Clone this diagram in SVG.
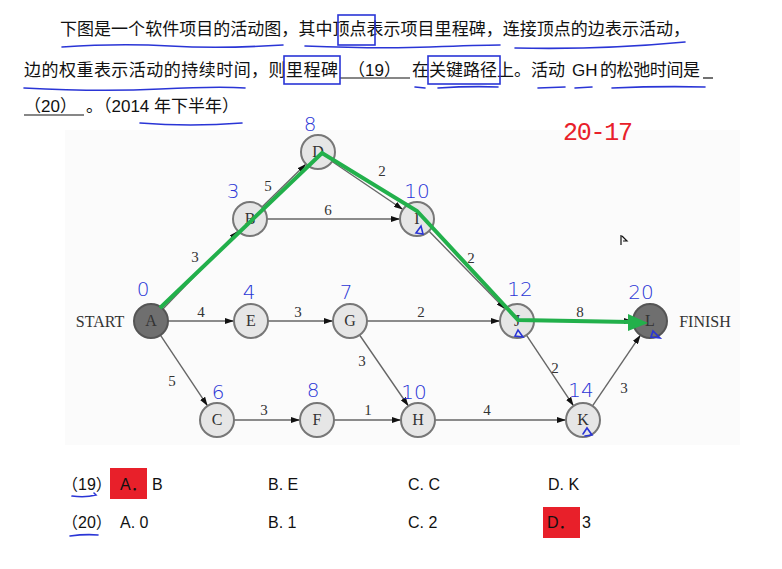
<svg xmlns="http://www.w3.org/2000/svg" width="782" height="569" viewBox="0 0 782 569">
<defs>
<style>
.q{font-family:"Liberation Sans","Noto Sans CJK SC",sans-serif;font-size:17px;fill:#111}
.ans{font-family:"Liberation Sans","Noto Sans CJK SC",sans-serif;font-size:16px;fill:#111}
.nd{fill:#e6e6e6;stroke:#777;stroke-width:2}
.nd2{fill:#6f6f6f;stroke:#555;stroke-width:2}
.nl{font-family:"Liberation Serif",serif;font-size:16px;fill:#333;text-anchor:middle}
.el{font-family:"Liberation Serif",serif;font-size:15px;fill:#333;text-anchor:middle}
.e{stroke:#666;stroke-width:1.4;fill:none;marker-end:url(#ah)}
.hw{font-family:"DejaVu Sans","Liberation Sans",sans-serif;font-weight:200;font-size:20px;fill:#2a35d6;text-anchor:middle}
.bl{stroke:#2a35d6;stroke-width:1.6;fill:none;stroke-linecap:round}
.red{fill:#e8202a}
</style>
<marker id="ah" markerUnits="userSpaceOnUse" markerWidth="9" markerHeight="6" refX="9" refY="3" orient="auto">
<path d="M0,0 L9,3 L0,6 z" fill="#111"/>
</marker>
</defs>
<rect width="782" height="569" fill="#ffffff"/>
<rect x="65" y="130" width="675" height="315" fill="#fbfbfb"/>

<g id="question">
<text class="q" x="60" y="35" textLength="630">下图是一个软件项目的活动图，其中顶点表示项目里程碑，连接顶点的边表示活动，</text>
<text class="q" x="24" y="76" textLength="314">边的权重表示活动的持续时间，则里程碑</text>
<text class="q" x="348" y="76">（19）</text>
<line x1="340" y1="78" x2="410" y2="78" stroke="#111" stroke-width="1.2"/>
<text class="q" x="412" y="76" textLength="153">在关键路径上。活动</text>
<text class="q" x="572" y="76">GH</text>
<text class="q" x="600" y="76" textLength="100">的松弛时间是</text>
<line x1="703" y1="78" x2="713" y2="78" stroke="#111" stroke-width="1.2"/>
<text class="q" x="24" y="112">（20）</text>
<line x1="24" y1="115" x2="84" y2="115" stroke="#111" stroke-width="1.2"/>
<text class="q" x="86" y="112">。（2014 年下半年）</text>
</g>

<g id="annotations">
<rect x="338" y="15" width="37" height="30" class="bl"/>
<rect x="284" y="56" width="56" height="28" class="bl"/>
<rect x="428" y="56" width="72" height="28" class="bl"/>
<path class="bl" d="M62,47 Q120,43 170,46 T283,45"/>
<path class="bl" d="M305,46 Q380,49 430,47 T500,45"/>
<path class="bl" d="M515,48 Q600,50 685,42"/>
<path class="bl" d="M24,88 Q100,92 160,89 T245,88"/>
<path class="bl" d="M415,87 L425,88"/>
<path class="bl" d="M438,88 Q470,86 498,87"/>
<path class="bl" d="M538,88 L565,87"/>
<path class="bl" d="M575,88 L592,87"/>
<path class="bl" d="M612,88 Q660,86 705,87"/>
<path class="bl" d="M140,123 Q190,127 242,123"/>
</g>

<text x="598" y="140" font-family="Liberation Mono, monospace" font-size="25" fill="#e8202a" text-anchor="middle" textLength="70">20-17</text>

<g id="connectors">
<path class="e" d="M162.9,308.9 L238.1,231.1"/>
<path class="e" d="M168,321 L234,321"/>
<path class="e" d="M160.4,335.1 L207.6,405.9"/>
<path class="e" d="M262,207 L306,164"/>
<path class="e" d="M267,219 L400,219"/>
<path class="e" d="M332.1,161.5 L402.9,209.5"/>
<path class="e" d="M268,321 L333,321"/>
<path class="e" d="M367,321 L500,321"/>
<path class="e" d="M359.6,335 L408.4,406"/>
<path class="e" d="M234,420 L300,420"/>
<path class="e" d="M334,420 L401,420"/>
<path class="e" d="M428.9,231.1 L505.1,308.9"/>
<path class="e" d="M534,321 L633,321"/>
<path class="e" d="M526.4,335.1 L573.6,405.9"/>
<path class="e" d="M435,420 L566,420"/>
<path class="e" d="M592.5,405.9 L640.5,335.1"/>
<g class="el">
<text x="195" y="262">3</text>
<text x="268" y="191">5</text>
<text x="382" y="176">2</text>
<text x="328" y="215">6</text>
<text x="471" y="263">2</text>
<text x="201" y="317">4</text>
<text x="298" y="317">3</text>
<text x="421" y="317">2</text>
<text x="580" y="317">8</text>
<text x="172" y="386">5</text>
<text x="362" y="366">3</text>
<text x="264" y="415">3</text>
<text x="368" y="415">1</text>
<text x="487" y="415">4</text>
<text x="555" y="373">2</text>
<text x="624" y="393">3</text>
</g>
</g>

<g id="A"><circle class="nd2" cx="151" cy="321" r="17"/><text class="nl" x="151" y="326">A</text></g>
<g id="B"><circle class="nd" cx="250" cy="219" r="17"/><text class="nl" x="250" y="224">B</text></g>
<g id="C"><circle class="nd" cx="217" cy="420" r="17"/><text class="nl" x="217" y="425">C</text></g>
<g id="D"><circle class="nd" cx="318" cy="152" r="17"/><text class="nl" x="318" y="157">D</text></g>
<g id="E"><circle class="nd" cx="251" cy="321" r="17"/><text class="nl" x="251" y="326">E</text></g>
<g id="F"><circle class="nd" cx="317" cy="420" r="17"/><text class="nl" x="317" y="425">F</text></g>
<g id="G"><circle class="nd" cx="350" cy="321" r="17"/><text class="nl" x="350" y="326">G</text></g>
<g id="H"><circle class="nd" cx="418" cy="420" r="17"/><text class="nl" x="418" y="425">H</text></g>
<g id="I"><circle class="nd" cx="417" cy="219" r="17"/><text class="nl" x="417" y="224">I</text></g>
<g id="J"><circle class="nd" cx="517" cy="321" r="17"/><text class="nl" x="517" y="326">J</text></g>
<g id="K"><circle class="nd" cx="583" cy="420" r="17"/><text class="nl" x="583" y="425">K</text></g>
<g id="L"><circle class="nd2" cx="650" cy="321" r="17"/><text class="nl" x="650" y="326">L</text></g>
<text class="nl" x="100" y="327">START</text>
<text class="nl" x="705" y="327">FINISH</text>

<g id="critical-path">
<polyline points="160,308 322,153 417,211 518,320 630,322" fill="none" stroke="#22b04b" stroke-width="4" stroke-linejoin="miter"/>
<path d="M628,314 L648,323 L628,331 z" fill="#22b04b"/>
</g>

<g id="handwritten">
<text class="hw" x="310" y="131">8</text>
<text class="hw" x="233" y="198">3</text>
<text class="hw" x="417" y="198">10</text>
<text class="hw" x="143" y="296">0</text>
<text class="hw" x="249" y="299">4</text>
<text class="hw" x="346" y="299">7</text>
<text class="hw" x="520" y="296">12</text>
<text class="hw" x="641" y="299">20</text>
<text class="hw" x="218" y="399">6</text>
<text class="hw" x="313" y="397">8</text>
<text class="hw" x="414" y="399">10</text>
<text class="hw" x="581" y="397">14</text>
<path class="bl" d="M416,233 L421,226 L423,234 Z"/>
<path class="bl" d="M515,336 L518,330 L523,337 Z"/>
<path class="bl" d="M651,337 L653,331 L660,338 Z"/>
<path class="bl" d="M583,434 L587,428 L592,435 L585,436"/>
</g>

<path d="M621,235 L621,245 M622,236 L627,241 L623,241" stroke="#111" stroke-width="1.2" fill="none"/>

<g id="answers">
<rect class="red" x="110" y="468" width="37" height="31"/>
<rect class="red" x="543" y="507" width="37" height="31"/>
<text class="ans" x="62" y="490">（19）</text>
<text class="ans" x="120" y="490">A．</text>
<text class="ans" x="152" y="490">B</text>
<text class="ans" x="268" y="490">B. E</text>
<text class="ans" x="408" y="490">C. C</text>
<text class="ans" x="548" y="490">D. K</text>
<text class="ans" x="62" y="528">（20）</text>
<text class="ans" x="120" y="528">A. 0</text>
<text class="ans" x="268" y="528">B. 1</text>
<text class="ans" x="408" y="528">C. 2</text>
<text class="ans" x="547" y="528">D．</text>
<text class="ans" x="582" y="528">3</text>
<path class="bl" d="M72,496 Q85,498 96,495 L94,493"/>
<path class="bl" d="M70,536 Q85,534 98,535"/>
</g>
</svg>
